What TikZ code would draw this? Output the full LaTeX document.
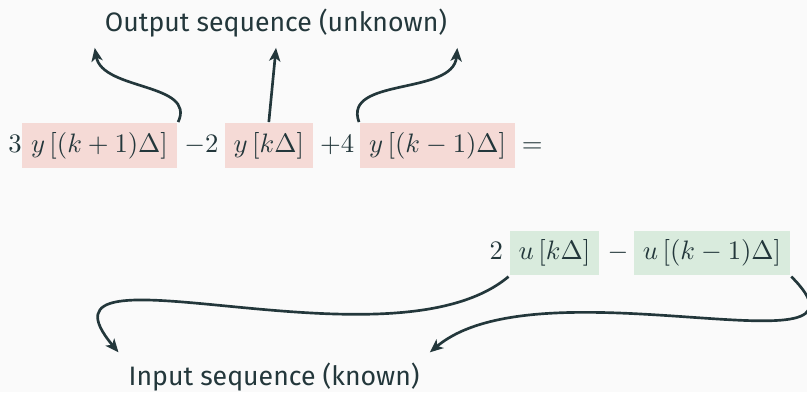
\documentclass[tikz,border=0pt]{standalone}
\usepackage[no-math]{fontspec}
\setmainfont{Fira Sans}
\usepackage{amsmath}
\usetikzlibrary{arrows.meta}
\usetikzlibrary{positioning}

\definecolor{darkteal}{HTML}{23373B}
\definecolor{bggray}{HTML}{FAFAFA}
\definecolor{outfill}{HTML}{F5DAD6}
\definecolor{infill}{HTML}{D9EBDD}

\tikzstyle{term} = [
	text height = 7.5pt,
	text depth = 2.5pt,
	inner sep = 3.33pt
]
\tikzstyle{outseq} = [term, fill = outfill]
\tikzstyle{inseq} = [term, fill = infill]
\tikzstyle{coef} = [term]
\tikzstyle{tag} = [anchor = base]

\begin{document}
\begin{tikzpicture}[auto, >={Stealth[length=5pt,width=4.2pt,inset=1.3pt]}, line width=1pt, color=darkteal]
	\fill[bggray] (0,0) rectangle (302.6pt,147pt);
	\useasboundingbox (0,0) rectangle (302.6pt,147pt);
	
	% output terms
	\node [coef] (c3) at (5.6pt,92.4pt) {$3$};
	\node [outseq, right of=c3, node distance=31.7pt] (ykp) {$y\left[(k+1)\Delta\right]$};
	\node [coef, right of=ykp, node distance=38.2pt] (m2) {$-2$};
	\node [outseq, right of=m2, node distance=25.3pt] (yk) {$y\left[k\Delta\right]$};
	\node [coef, right of=yk, node distance=25.6pt] (p4) {$+4$};
	\node [outseq, right of=p4, node distance=37.7pt] (ykm) {$y\left[(k-1)\Delta\right]$};
	\node [coef, right of=ykm, node distance=35.5pt] (eq) {$=$};
	
	% input terms
	\node [coef] (c2) at (186.1pt,52.1pt) {$2$};
	\node [inseq, right of=c2, node distance=21.8pt] (uk) {$u\left[k\Delta\right]$};
	\node [coef, right of=uk, node distance=23.8pt] (minus) {$-$};
	\node [inseq, right of=minus, node distance=35.3pt] (ukm) {$u\left[(k-1)\Delta\right]$};
	
	\node [tag] (outtag) at (103.5pt,135pt) {Output sequence (unknown)};
	\node [tag] (intag) at (102.8pt,2.6pt) {Input sequence (known)};
	
	\draw[->] (ykp.north east) to[out=65,in=-80] (outtag.south west);
	\draw[->] (yk.north) -- (outtag.south);
	\draw[->] (ykm.north west) to[out=110,in=-95] (outtag.south east);
	\draw[->] (uk.south west) to[out=-140,in=130] (intag.north west);
	\draw[->] (ukm.south east) to[out=-45,in=40] (intag.north east);
	
\end{tikzpicture}
\end{document}
